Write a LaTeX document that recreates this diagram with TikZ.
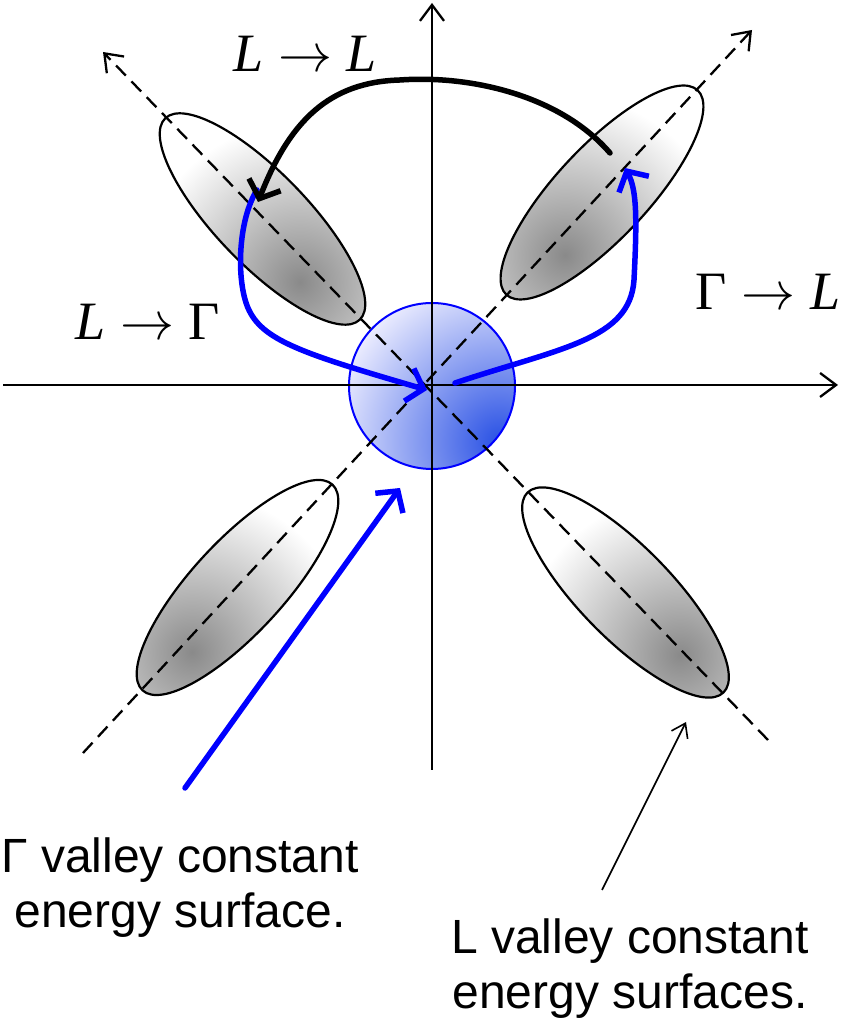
\documentclass[tikz,border=0pt]{standalone}
\usepackage{fontspec}
\newfontfamily\arialf{Liberation Sans}
\newfontfamily\timesf{Liberation Serif}
\usetikzlibrary{arrows.meta}
\definecolor{gdark}{RGB}{40,80,228}
\definecolor{glight}{RGB}{240,240,255}
\newcommand\valleyshape[3]{%
  \begin{scope}
    \clip[rotate around={#2:#1}] #1 ellipse[x radius=140,y radius=46];
    \shade[inner color=black!46, outer color=white] #3 circle (160);
  \end{scope}
  \draw[ellline, rotate around={#2:#1}] #1 ellipse[x radius=140,y radius=46];
}
\newcommand\arr{\hspace{0.27em}\scalebox{5.4}{\normalsize$\rightarrow$}\hspace{0.27em}}
\begin{document}
\begin{tikzpicture}[x=1pt,y=1pt,
  ellline/.style={line width=2.2pt},
  axisline/.style={line width=2.3pt,-{Straight Barb[length=16pt,width=24pt]}},
  diagline/.style={line width=2.3pt,dash pattern=on 14pt off 8pt,-{Straight Barb[length=16pt,width=24pt]}},
  bluearr/.style={blue,line width=5.5pt,line cap=round,-{Straight Barb[length=15pt,width=34pt]}},
  blackarr/.style={black,line width=5.5pt,line cap=round,-{Straight Barb[length=15pt,width=34pt]}},
  thinarr/.style={black,line width=1.6pt,-{Straight Barb[length=13pt,width=18pt]}},
  mathlbl/.style={font=\timesf\fontsize{54}{60}\selectfont, inner sep=0pt, anchor=base},
  txtlbl/.style={font=\arialf\fontsize{48}{55}\selectfont, align=center, inner sep=0pt}
]
\useasboundingbox (0,0) rectangle (843,1020);
% coordinates
\coordinate (O) at (432,635);
\coordinate (hL) at (3,635);
\coordinate (hR) at (838,635);
\coordinate (vB) at (432,250);
\coordinate (vT) at (432,1017);
\coordinate (d1a) at (768,280);
\coordinate (d1b) at (103,968);
\coordinate (d2a) at (83,267);
\coordinate (d2b) at (752,990);
% valleys
\valleyshape{(262.5,801)}{-46}{(300,738)}
\valleyshape{(602,827.5)}{46.9}{(565,765)}
\valleyshape{(237.5,432.5)}{47.3}{(192,368)}
\valleyshape{(625.5,427.5)}{-45.6}{(680,365)}
% Gamma sphere
\begin{scope}
  \clip (432,634) circle (83);
  \fill[glight] (432,634) circle (83);
  \shade[inner color=gdark, outer color=glight] (500,578) circle (175);
\end{scope}
\draw[blue, line width=2pt] (432,634) circle (83);
% axes
\draw[axisline] (hL) -- (hR);
\draw[axisline] (vB) -- (vT);
\draw[diagline] (d1a) -- (d1b);
\draw[diagline] (d2a) -- (d2b);
% transitions
\coordinate (LGs) at (257,830);
\coordinate (LGe) at (427,630);
\coordinate (GLs) at (455,637);
\coordinate (GLe) at (625,852);
\coordinate (LLs) at (610,867);
\coordinate (LLe) at (258,818);
\draw[bluearr] (LGs) .. controls (238,800) and (236,740) .. (248,712) .. controls (262,680) and (300,667) .. (LGe);
\draw[bluearr] (GLs) .. controls (560,672) and (630,680) .. (634,740) .. controls (637,800) and (637,830) .. (GLe);
\draw[blackarr] (LLs) .. controls (560,925) and (470,945) .. (400,940) .. controls (330,938) and (290,900) .. (LLe);
% labels
\node[mathlbl] (lLL) at (305,948) {\textit{L}\arr\textit{L}};
\node[mathlbl] (lGL) at (768,710) {Γ\arr\textit{L}};
\node[mathlbl] (lLG) at (148,680) {\textit{L}\arr Γ};
\node[txtlbl] (tG) at (180,132) {Γ valley constant\\energy surface.};
\node[txtlbl] (tL) at (630,51) {L valley constant\\energy surfaces.};
\coordinate (Gpt) at (400,532);
\coordinate (Gst) at (185,232);
\coordinate (Lpt) at (686,298);
\coordinate (Lst) at (602,130);
\draw[bluearr] (Gst) -- (Gpt);
\draw[thinarr] (Lst) -- (Lpt);
\end{tikzpicture}
\end{document}
